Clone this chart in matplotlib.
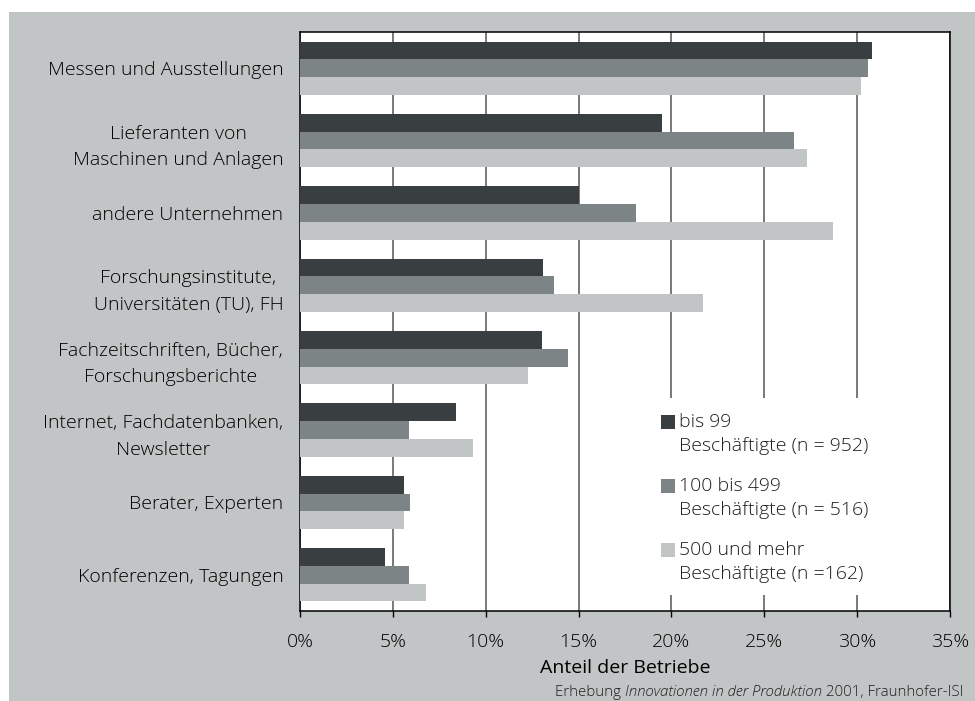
import matplotlib
matplotlib.use("Agg")
import numpy as np
import matplotlib.pyplot as plt
from matplotlib.patches import Rectangle
from matplotlib.ticker import FuncFormatter

plt.rcParams['font.family'] = ['Open Sans', 'DejaVu Sans']
plt.rcParams['font.weight'] = 'light'
plt.rcParams['text.color'] = '#1e1e1e'

categories = [
    "Messen und Ausstellungen",
    "Lieferanten von\nMaschinen und Anlagen",
    "andere Unternehmen",
    "Forschungsinstitute,\nUniversitäten (TU), FH",
    "Fachzeitschriften, Bücher,\nForschungsberichte",
    "Internet, Fachdatenbanken,\nNewsletter",
    "Berater, Experten",
    "Konferenzen, Tagungen",
]
klein = [30.8, 19.5, 15.0, 13.1, 13.05, 8.4, 5.6, 4.6]
mittel = [30.6, 26.6, 18.1, 13.7, 14.45, 5.85, 5.9, 5.85]
gross = [30.2, 27.3, 28.7, 21.7, 12.3, 9.3, 5.6, 6.8]
series_labels = [
    "bis 99\nBeschäftigte (n = 952)",
    "100 bis 499\nBeschäftigte (n = 516)",
    "500 und mehr\nBeschäftigte (n =162)",
]
colors = ['#393e41', '#7d8485', '#c1c5c5']
xticks = [0, 5, 10, 15, 20, 25, 30, 35]

fs = 14

fig = plt.figure(figsize=(9.75, 7.01), dpi=100)
fig.patches.append(Rectangle((9/975, 0), 1, 1 - 12/701, transform=fig.transFigure,
                             facecolor='#c1c5c5', edgecolor='none', zorder=-10))
ax = fig.add_axes([300/975, 1 - 611/701, 650/975, 579/701])
ax.set_facecolor('white')

y = np.arange(len(categories))
h = 0.245
for i, vals in enumerate([klein, mittel, gross]):
    ax.barh(y + (i - 1) * h, vals, height=h, color=colors[i], zorder=3)

ax.set_xlim(0, 35)
ax.set_ylim(len(categories) - 0.5, -0.5)
ax.set_xticks(xticks)
ax.xaxis.set_major_formatter(FuncFormatter(lambda v, p: f"{v:.0f}%"))
ax.set_yticks(y)
ax.set_yticklabels(categories, multialignment='center', linespacing=1.62)
ax.tick_params(axis='y', length=0, pad=12, labelsize=fs)
ax.tick_params(axis='x', length=4.5, width=1, direction='out', pad=11, labelsize=fs)
ax.grid(axis='x', color='#555555', linewidth=1.1, zorder=0)
ax.set_axisbelow(True)
for s in ax.spines.values():
    s.set_color('black')
    s.set_linewidth(1.1)
ax.set_xlabel("Anteil der Betriebe", fontsize=fs, labelpad=6)

# Legend box with white background over the gridlines
ax.add_patch(Rectangle((0.54, 0.028), 0.44, 0.34, transform=ax.transAxes,
                       facecolor='white', edgecolor='none', zorder=4))
for i, lab in enumerate(series_labels):
    ytop = 0.338 - i * 0.1105
    ax.add_patch(Rectangle((0.556, ytop - 0.024), 0.0215, 0.024, transform=ax.transAxes,
                           facecolor=colors[i], edgecolor='none', zorder=5))
    ax.text(0.583, ytop + 0.004, lab, transform=ax.transAxes, fontsize=fs,
            va='top', ha='left', linespacing=1.42, zorder=6)

# Source line, partly italic, all on one baseline
sfs = 10.8
base = 1 - 696/701
t3 = fig.text(963/975, base, " 2001, Fraunhofer-ISI", fontsize=sfs,
              ha='right', va='baseline')
t2 = fig.text(0, base, "Innovationen in der Produktion", fontsize=sfs, style='italic',
              ha='right', va='baseline')
t1 = fig.text(0, base, "Erhebung ", fontsize=sfs, ha='right', va='baseline')
fig.canvas.draw()
r = fig.canvas.get_renderer()
bb3 = t3.get_window_extent(r).transformed(fig.transFigure.inverted())
t2.set_x(bb3.x0)
fig.canvas.draw()
bb2 = t2.get_window_extent(r).transformed(fig.transFigure.inverted())
t1.set_x(bb2.x0)

fig.savefig("out.png", dpi=100, facecolor='white')
